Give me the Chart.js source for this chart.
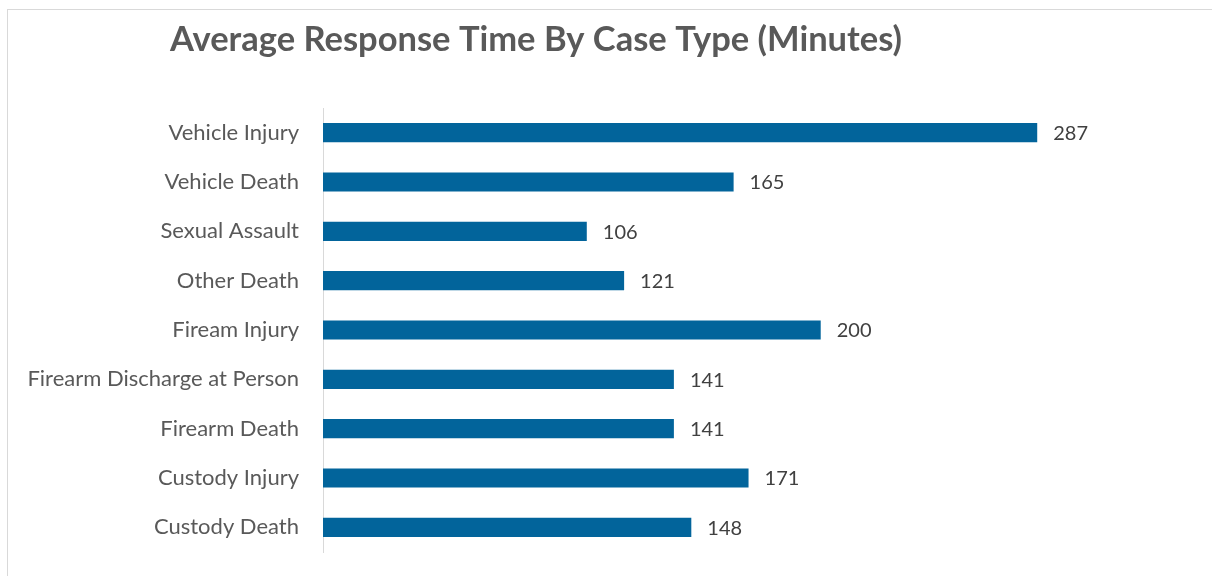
<!DOCTYPE html>
<html>
<head>
<meta charset="utf-8">
<script src="https://cdn.jsdelivr.net/npm/chart.js@4/dist/chart.umd.min.js"></script>
<style>
  html, body { margin: 0; padding: 0; background: #fff; overflow: hidden; }
  #wrap { position: relative; width: 1212px; height: 576px; }
  #frame { position: absolute; left: 7px; top: 9px; width: 1240px; height: 620px; border: 1px solid #d9d9d9; box-sizing: border-box; }
  canvas { position: absolute; left: 0; top: 0; }
</style>
</head>
<body>
<div id="wrap">
  <div id="frame"></div>
  <canvas id="chart" width="1212" height="576"></canvas>
</div>
<script>
const chartTitle = 'Average Response Time By Case Type (Minutes)';
const caseTypes = [
  'Vehicle Injury',
  'Vehicle Death',
  'Sexual Assault',
  'Other Death',
  'Fiream Injury',
  'Firearm Discharge at Person',
  'Firearm Death',
  'Custody Injury',
  'Custody Death'
];
const avgMinutes = [287, 165, 106, 121, 200, 141, 141, 171, 148];

const FONT = 'Lato, "Open Sans", sans-serif';

// Value labels drawn just past the end of each bar
const valueLabels = {
  id: 'valueLabels',
  afterDatasetsDraw(chart) {
    const ctx = chart.ctx;
    const meta = chart.getDatasetMeta(0);
    ctx.save();
    ctx.font = '20px ' + FONT;
    ctx.fillStyle = '#404040';
    ctx.textAlign = 'left';
    ctx.textBaseline = 'middle';
    meta.data.forEach((bar, i) => {
      ctx.fillText(String(avgMinutes[i]), bar.x + 16, bar.y + 1);
    });
    ctx.restore();
  }
};

// Title drawn at a fixed spot above the plot
const titleText = {
  id: 'titleText',
  afterDraw(chart) {
    const ctx = chart.ctx;
    ctx.save();
    ctx.font = 'bold 34.5px ' + FONT;
    ctx.fillStyle = '#595959';
    ctx.textAlign = 'left';
    ctx.textBaseline = 'alphabetic';
    ctx.fillText(chartTitle, 170, 51);
    ctx.restore();
  }
};

new Chart(document.getElementById('chart'), {
  type: 'bar',
  data: {
    labels: caseTypes,
    datasets: [{
      data: avgMinutes,
      backgroundColor: '#02649b',
      borderWidth: 0,
      barPercentage: 0.39,
      categoryPercentage: 1
    }]
  },
  options: {
    indexAxis: 'y',
    responsive: false,
    animation: false,
    layout: { padding: { left: 0, right: 18, top: 108, bottom: 24 } },
    plugins: {
      legend: { display: false },
      tooltip: { enabled: false },
      title: { display: false }
    },
    scales: {
      x: { display: false, min: 0, max: 350 },
      y: {
        afterFit(scale) {
          scale.width = 323;
          scale.paddingTop = 0;
          scale.paddingBottom = 0;
        },
        grid: { display: false, drawTicks: false },
        border: { display: true, color: '#d9d9d9', width: 1 },
        ticks: { color: '#595959', font: { family: FONT, size: 22 }, padding: 24 }
      }
    }
  },
  plugins: [valueLabels, titleText]
});
</script>
</body>
</html>
